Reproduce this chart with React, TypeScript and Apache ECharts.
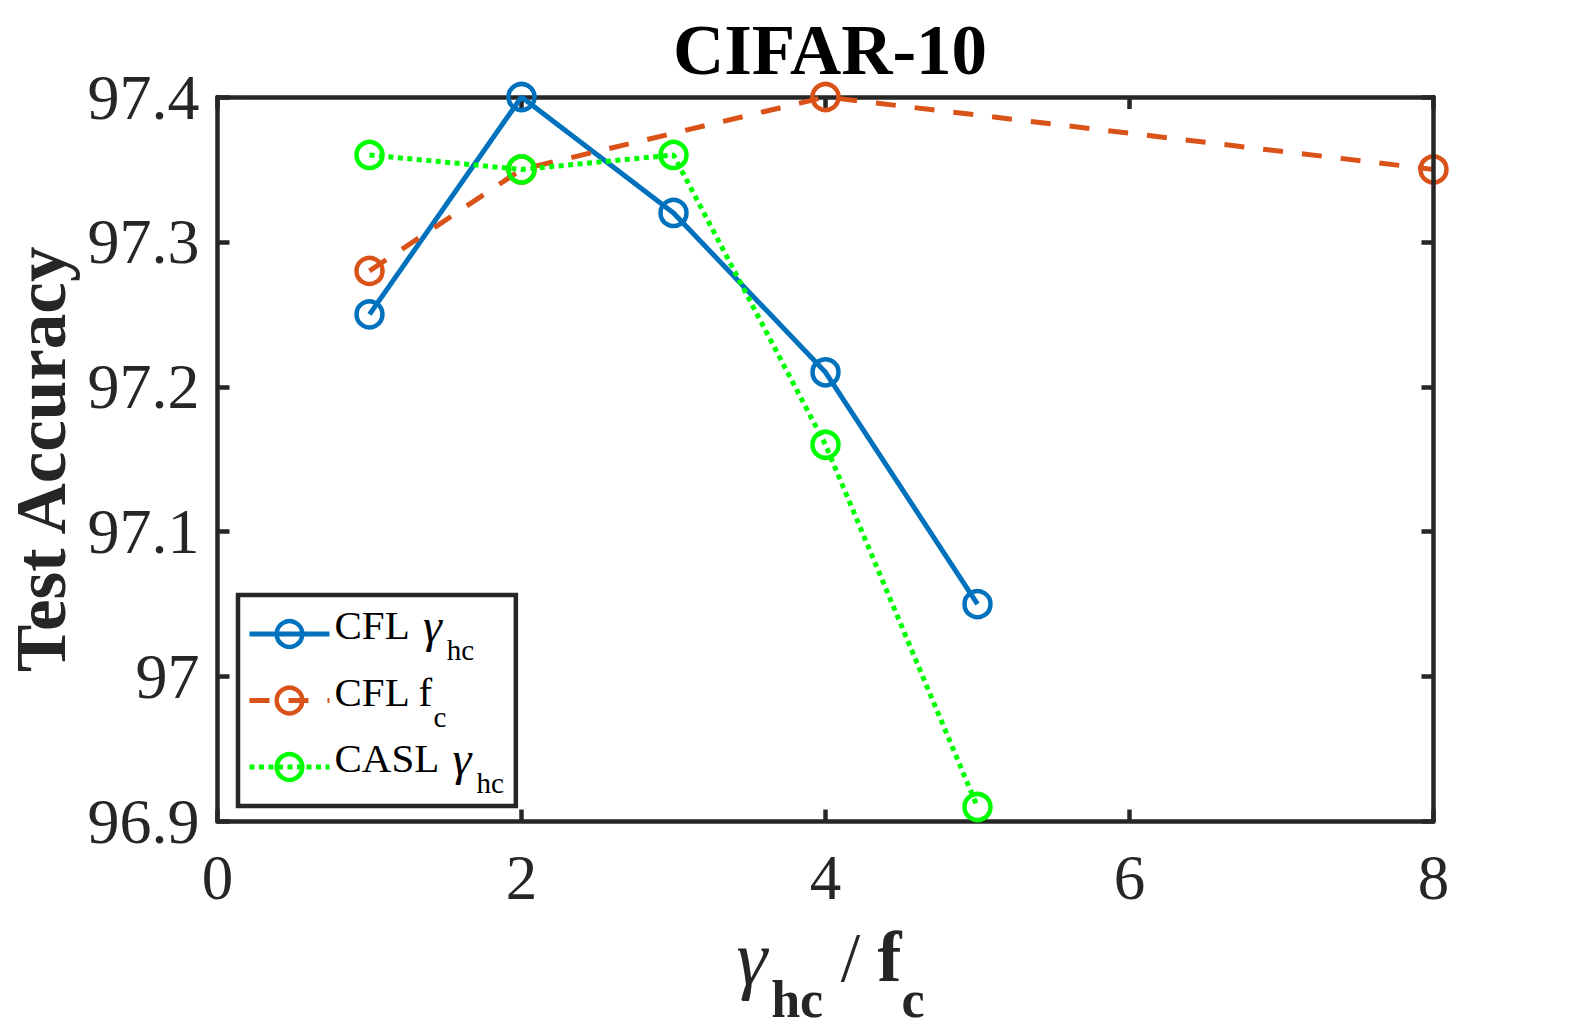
import React, { useEffect, useRef } from 'react';
import * as echarts from 'echarts';

// ---- data ----
const cflGammaX = [1, 2, 3, 4, 5];
const cflGammaY = [97.25, 97.4, 97.32, 97.21, 97.05];
const cflFcX = [1, 2, 4, 8];
const cflFcY = [97.28, 97.35, 97.4, 97.35];
const caslGammaX = [1, 2, 3, 4, 5];
const caslGammaY = [97.36, 97.35, 97.36, 97.16, 96.91];

const seriesNames = ['CFL γhc', 'CFL fc', 'CASL γhc'];
const legendMain = ['CFL ', 'CFL f', 'CASL '];
const legendGreek = ['γ', '', 'γ'];
const legendSub = ['hc', 'c', 'hc'];
const colors = ['#0072BD', '#D95319', '#00FF00'];
const lineTypes: any[] = ['solid', [20, 19], [5, 4.5]];

const xMin = 0, xMax = 8, xInterval = 2;
const yMin = 96.9, yMax = 97.4, yInterval = 0.1;

const FONT = "'Liberation Serif', 'Times New Roman', serif";
const AXIS_COLOR = '#262626';

function zip(xs: number[], ys: number[]) {
  return xs.map((x, i) => [x, ys[i]]);
}

export default function App() {
  const ref = useRef<HTMLDivElement>(null);
  useEffect(() => {
    if (!ref.current) return;
    const chart = echarts.init(ref.current, undefined, { renderer: 'svg' });
    const datasets = [zip(cflGammaX, cflGammaY), zip(cflFcX, cflFcY), zip(caslGammaX, caslGammaY)];
    const axisLine = { show: true, onZero: false, lineStyle: { color: AXIS_COLOR, width: 4.5 } };
    const axisTick = { show: true, inside: true, length: 12, lineStyle: { color: AXIS_COLOR, width: 4.5 } };
    const yFmt = (v: number) => String(Number(v.toFixed(1)));

    chart.setOption({
      animation: false,
      backgroundColor: '#ffffff',
      title: {
        text: 'CIFAR-10',
        left: 825,
        top: 9,
        textAlign: 'center',
        textStyle: { fontFamily: FONT, fontWeight: 'bold', fontSize: 71, color: '#000' },
      },
      grid: {
        left: 217.5,
        right: 150.5,
        top: 97,
        bottom: 208.5,
        containLabel: false,
        outerBoundsMode: 'none',
      },
      legend: {
        orient: 'vertical',
        left: 238,
        top: 595,
        padding: [6, 12, 6, 9],
        itemGap: 3,
        itemWidth: 80,
        itemHeight: 32,
        backgroundColor: '#fff',
        borderColor: AXIS_COLOR,
        borderWidth: 4.5,
        data: seriesNames,
        lineStyle: { width: 5 },
        itemStyle: { borderWidth: 4.5 },
        formatter: (name: string) => {
          const i = seriesNames.indexOf(name);
          const g = legendGreek[i] ? `{g|${legendGreek[i]}}` : '';
          return `{n|${legendMain[i]}}${g}{s|${legendSub[i]}}`;
        },
        textStyle: {
          fontFamily: FONT,
          color: '#000',
          rich: {
            n: { fontFamily: FONT, fontSize: 41, lineHeight: 44, padding: [0, 0, 18, 0], color: '#000' },
            g: { fontFamily: FONT, fontSize: 48, fontStyle: 'italic', lineHeight: 44, padding: [0, 5, 18, 3], color: '#000' },
            s: { fontFamily: FONT, fontSize: 29, lineHeight: 30, padding: [32, 0, 0, 0], color: '#000' },
          },
        },
      },
      xAxis: [
        {
          type: 'value',
          min: xMin,
          max: xMax,
          interval: xInterval,
          position: 'bottom',
          z: 1,
          axisLine,
          axisTick,
          splitLine: { show: false },
          axisLabel: { fontFamily: FONT, fontSize: 63, color: AXIS_COLOR, margin: 25 },
          name: '{g|γ}{s|hc}{m| / }{f|f}{s|c}',
          nameLocation: 'middle',
          nameGap: 113,
          nameTextStyle: {
            fontFamily: FONT,
            color: AXIS_COLOR,
            rich: {
              g: { fontFamily: FONT, fontSize: 78, fontStyle: 'italic', lineHeight: 76, padding: [0, 4, 31, 10], color: AXIS_COLOR },
              m: { fontFamily: FONT, fontSize: 70, lineHeight: 76, padding: [0, 0, 31, 0], color: AXIS_COLOR },
              f: { fontFamily: FONT, fontSize: 72, fontWeight: 'bold', lineHeight: 76, padding: [0, 0, 31, 0], color: AXIS_COLOR },
              s: { fontFamily: FONT, fontSize: 52, fontWeight: 'bold', lineHeight: 54, padding: [53, 0, 0, 0], color: AXIS_COLOR },
            },
          },
        },
        {
          type: 'value',
          min: xMin,
          max: xMax,
          interval: xInterval,
          position: 'top',
          z: 1,
          axisLine,
          axisTick,
          splitLine: { show: false },
          axisLabel: { show: false },
        },
      ],
      yAxis: [
        {
          type: 'value',
          min: yMin,
          max: yMax,
          interval: yInterval,
          position: 'left',
          z: 1,
          axisLine,
          axisTick,
          splitLine: { show: false },
          axisLabel: { fontFamily: FONT, fontSize: 64, color: AXIS_COLOR, margin: 18, formatter: yFmt },
          name: 'Test Accuracy',
          nameLocation: 'middle',
          nameGap: 141,
          nameTextStyle: { fontFamily: FONT, fontWeight: 'bold', fontSize: 71, color: AXIS_COLOR },
        },
        {
          type: 'value',
          min: yMin,
          max: yMax,
          interval: yInterval,
          position: 'right',
          z: 5,
          axisLine,
          axisTick,
          splitLine: { show: false },
          axisLabel: { show: false },
        },
      ],
      series: seriesNames.map((name, i) => ({
        name,
        type: 'line',
        xAxisIndex: 0,
        yAxisIndex: 0,
        data: datasets[i],
        clip: false,
        z: 3,
        symbol: 'circle',
        symbolSize: 26,
        itemStyle: { color: 'rgba(255,255,255,0)', borderColor: colors[i], borderWidth: 4.5 },
        lineStyle: { color: colors[i], width: 5, type: lineTypes[i], cap: 'butt' },
        emphasis: { disabled: true },
      })),
    });
    return () => chart.dispose();
  }, []);
  return <div ref={ref} style={{ position: 'absolute', left: 0, top: 0, width: 1584, height: 1030 }} />;
}
